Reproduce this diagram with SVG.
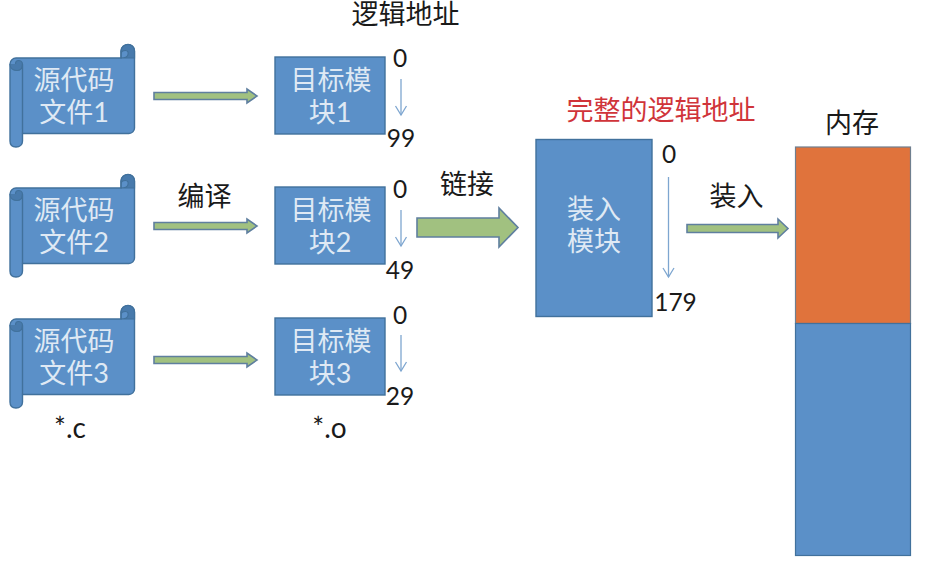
<svg xmlns="http://www.w3.org/2000/svg" width="925" height="568" viewBox="0 0 925 568">
<style>
text{font-family:Lato,"Noto Sans CJK SC",sans-serif;text-anchor:middle;font-size:27px;fill:#1a1a1a}
.w{fill:#dfe9f4}
.n{font-size:24.500px}
.s{font-size:28px}
.top{font-family:"Liberation Sans","Noto Sans CJK SC",sans-serif}
.red{fill:#d0343a}
.b{fill:#5b90c8;stroke:#41719c;stroke-width:1.4}
.dark{fill:#487aac;stroke:#41719c;stroke-width:1.2}
.line{fill:none;stroke:#41719c;stroke-width:1.4}
.g{fill:#a1c180;stroke:#5f7f9f;stroke-width:1.6}
.t{fill:none;stroke:#7ea6d0;stroke-width:1.3}
</style>
<defs>
<g id="scroll">
<path class="b" d="M22.500 58H121V51C121 47 124.500 44.500 128 44.500S134.500 47 134.500 51V128C134.500 131 132 133.500 129 133.500H22.500V141C22.500 144.500 20 147 16 147S10 144.500 10 141V64C10 60.500 13 58 16 58Z"/>
<path class="dark" d="M121 58V54C121 51.500 123 50.500 125.500 50.500C128 50.500 128.500 52.500 128 54.500C127.500 57 125 58 121 58H134.500V51C134.500 47 131.500 44.500 128 44.500S121 47 121 51Z"/>
<path class="dark" d="M10 64C10 68 13 70.500 17 70.500C20.500 70.500 22.500 68 22.500 64.500C22.500 62 20.500 60.500 18.500 60.500C16.500 60.500 15.500 62 15.500 64"/>
<path class="line" d="M22.500 64.500V133.500"/>
</g>
<path id="arrow" class="g" d="M0-3.500H93V-7L103 0 93 7V3.500H0Z"/>
<path id="tip" class="t" d="M-5.500-9L0 0 5.500-9"/>
</defs>

<g id="connectors">
<use href="#arrow" x="154" y="96"/>
<use href="#arrow" x="154" y="226"/>
<use href="#arrow" x="154" y="360"/>
<path class="g" d="M417 218H499V208L518 227.500 499 247V237H417Z"/>
<path class="g" d="M687 224.500H778V219L788 228.500 778 238V232.500H687Z"/>
<path class="t" d="M401 79V115"/><use href="#tip" x="401" y="115"/>
<path class="t" d="M401 210V246"/><use href="#tip" x="401" y="246"/>
<path class="t" d="M401 335V371"/><use href="#tip" x="401" y="371"/>
<path class="t" d="M668.500 177V277"/><use href="#tip" x="668.500" y="277"/>
</g>

<g id="source1"><use href="#scroll"/><text class="w"><tspan x="74" y="90">源代码</tspan><tspan x="74" y="122">文件1</tspan></text></g>
<g id="source2"><use href="#scroll" y="130"/><text class="w"><tspan x="74" y="220">源代码</tspan><tspan x="74" y="252">文件2</tspan></text></g>
<g id="source3"><use href="#scroll" y="261"/><text class="w"><tspan x="74" y="351">源代码</tspan><tspan x="74" y="383">文件3</tspan></text></g>

<g id="object1"><rect class="b" x="275" y="57" width="110" height="77"/><text class="w"><tspan x="331" y="90">目标模</tspan><tspan x="330" y="122">块1</tspan></text></g>
<g id="object2"><rect class="b" x="275" y="187" width="110" height="77"/><text class="w"><tspan x="331" y="220">目标模</tspan><tspan x="330" y="252">块2</tspan></text></g>
<g id="object3"><rect class="b" x="275" y="318" width="110" height="77"/><text class="w"><tspan x="331" y="351">目标模</tspan><tspan x="330" y="383">块3</tspan></text></g>

<g id="load-module"><rect class="b" x="536" y="139.500" width="116" height="177"/><text class="w"><tspan x="594" y="219">装入</tspan><tspan x="594" y="251">模块</tspan></text></g>

<g id="memory">
<rect x="795.500" y="147" width="115" height="176.500" fill="#e0733c" stroke="#6f7f8f" stroke-width="1.2"/>
<rect x="795.500" y="323.500" width="115" height="232" fill="#5b90c8" stroke="#41719c" stroke-width="1.2"/>
</g>

<g id="labels">
<text class="top" x="405.500" y="24">逻辑地址</text>
<text x="204.500" y="206">编译</text>
<text x="467" y="194">链接</text>
<text x="736.500" y="206">装入</text>
<text x="852" y="133">内存</text>
<text class="red" x="661" y="120">完整的逻辑地址</text>
<text class="n" x="400" y="67">0</text>
<text class="n" x="401" y="147">99</text>
<text class="n" x="400" y="198">0</text>
<text class="n" x="400" y="279">49</text>
<text class="n" x="400" y="324">0</text>
<text class="n" x="400" y="405">29</text>
<text class="n" x="669" y="163">0</text>
<text class="n" x="675.500" y="311">179</text>
<text class="s" x="70" y="438">*.c</text>
<text class="s" x="329.500" y="438">*.o</text>
</g>
</svg>
